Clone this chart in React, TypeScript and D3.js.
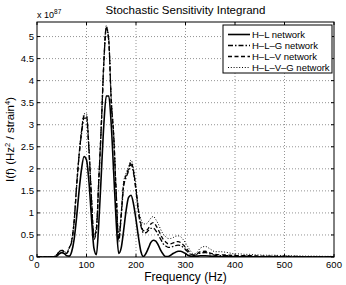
import React from "react";
import * as d3 from "d3";

const freqs = [
  0, 5, 10, 15, 20, 25, 30, 35, 40, 45, 50, 55, 60, 65, 70, 75, 80, 85, 90, 95,
  100, 105, 110, 115, 120, 125, 130, 135, 140, 145, 150, 155, 160, 165, 170, 175, 180, 185, 190, 195,
  200, 205, 210, 215, 220, 225, 230, 235, 240, 245, 250, 255, 260, 265, 270, 275, 280, 285, 290, 295,
  300, 305, 310, 315, 320, 330, 340, 350, 360, 370, 380, 390, 400, 410, 420, 430, 440, 450, 460, 470,
  480, 490, 500, 510, 520, 530, 540, 550, 560, 570, 580, 590, 600,
];

const hl = [
  0, 0, 0, 0, 0, 0, 0, 0, 0.02, 0.07, 0.1, 0.08, 0.03, 0.02, 0.12, 0.4, 0.9, 1.5, 2.0, 2.28,
  2.2, 1.7, 0.9, 0.2, 0.05, 0.8, 1.9, 3.0, 3.65, 3.65, 3.0, 1.9, 0.8, 0.08, 0.2, 0.6, 1.05, 1.35, 1.4, 1.2,
  0.85, 0.45, 0.12, 0.01, 0.08, 0.2, 0.33, 0.38, 0.36, 0.27, 0.15, 0.06, 0.01, 0.01, 0.04, 0.08, 0.11, 0.13, 0.13, 0.11,
  0.08, 0.04, 0.02, 0.01, 0.01, 0.03, 0.03, 0.02, 0.01, 0.005, 0.01, 0.01, 0.005, 0.003, 0.003, 0.004, 0.003, 0.002, 0.002, 0.002,
  0.002, 0.001, 0.001, 0.001, 0.001, 0.001, 0.001, 0.001, 0.001, 0.001, 0.001, 0.001, 0.001,
];

const hlg = [
  0, 0, 0, 0, 0, 0, 0, 0.01, 0.05, 0.12, 0.15, 0.12, 0.08, 0.2, 0.35, 0.8, 1.6, 2.3, 2.8, 3.15,
  3.15, 2.4, 1.3, 0.4, 0.6, 1.75, 3.0, 4.4, 5.2, 4.9, 3.5, 2.7, 1.4, 0.35, 0.9, 1.6, 1.8, 1.95, 2.1, 1.9,
  1.5, 1.0, 0.7, 0.55, 0.55, 0.6, 0.65, 0.65, 0.6, 0.5, 0.4, 0.3, 0.25, 0.22, 0.22, 0.24, 0.26, 0.27, 0.26, 0.22,
  0.17, 0.11, 0.06, 0.03, 0.04, 0.09, 0.1, 0.07, 0.04, 0.03, 0.03, 0.03, 0.02, 0.02, 0.02, 0.02, 0.015, 0.01, 0.01, 0.01,
  0.01, 0.01, 0.01, 0.008, 0.008, 0.007, 0.006, 0.006, 0.005, 0.005, 0.004, 0.004, 0.004,
];

const hlv = [
  0, 0, 0, 0, 0, 0, 0, 0.01, 0.05, 0.12, 0.15, 0.12, 0.08, 0.2, 0.36, 0.8, 1.6, 2.3, 2.85, 3.2,
  3.2, 2.45, 1.35, 0.45, 0.65, 1.8, 3.0, 4.4, 5.2, 4.9, 3.55, 2.75, 1.45, 0.4, 0.95, 1.65, 1.85, 2.0, 2.15, 1.95,
  1.55, 1.05, 0.75, 0.6, 0.6, 0.65, 0.75, 0.78, 0.72, 0.62, 0.5, 0.4, 0.34, 0.3, 0.3, 0.32, 0.34, 0.35, 0.33, 0.28,
  0.22, 0.15, 0.08, 0.05, 0.05, 0.12, 0.13, 0.09, 0.06, 0.05, 0.05, 0.04, 0.03, 0.03, 0.03, 0.03, 0.025, 0.02, 0.02, 0.02,
  0.02, 0.015, 0.015, 0.012, 0.012, 0.01, 0.01, 0.009, 0.008, 0.008, 0.007, 0.006, 0.006,
];

const hlvg = [
  0, 0, 0, 0, 0, 0, 0, 0.01, 0.06, 0.13, 0.16, 0.13, 0.1, 0.22, 0.38, 0.85, 1.65, 2.35, 2.9, 3.25,
  3.25, 2.5, 1.4, 0.5, 0.7, 1.85, 3.05, 4.45, 5.25, 4.95, 3.6, 2.8, 1.5, 0.45, 1.0, 1.7, 1.9, 2.05, 2.2, 2.0,
  1.6, 1.1, 0.85, 0.75, 0.75, 0.8, 0.88, 0.92, 0.85, 0.75, 0.62, 0.52, 0.46, 0.42, 0.42, 0.44, 0.47, 0.48, 0.46, 0.4,
  0.32, 0.23, 0.14, 0.08, 0.08, 0.2, 0.24, 0.18, 0.12, 0.12, 0.11, 0.09, 0.07, 0.07, 0.06, 0.06, 0.05, 0.045, 0.04, 0.04,
  0.04, 0.035, 0.035, 0.03, 0.025, 0.025, 0.02, 0.02, 0.02, 0.018, 0.015, 0.015, 0.015,
];

const seriesNames = ["H\u2013L network", "H\u2013L\u2013G network", "H\u2013L\u2013V network", "H\u2013L\u2013V\u2013G network"];
const xTicks = [0, 100, 200, 300, 400, 500, 600];
const yTicks = [0, 0.5, 1, 1.5, 2, 2.5, 3, 3.5, 4, 4.5, 5];

const W = 346;
const H = 285;
const m = { left: 37, right: 12, top: 22, bottom: 27 };
const FONT = "Liberation Sans, Arial, Helvetica, sans-serif";

export default function App() {
  const x = d3.scaleLinear().domain([0, 600]).range([m.left, W - m.right]);
  const y = d3.scaleLinear().domain([0, 5.33]).range([H - m.bottom - 1, m.top]);
  const series = [hl, hlg, hlv, hlvg];
  const dashes = ["none", "5,2,1.5,2", "4,2.5", "1,1.8"];
  const widths = [1.6, 1.3, 1.3, 1.0];
  const line = (vals: number[]) =>
    d3
      .line<number>()
      .x((_, i) => x(freqs[i]))
      .y((d) => y(d))
      .curve(d3.curveMonotoneX)(vals) as string;

  const x0 = x(0), x1 = x(600), yb = y(0), yt = m.top;
  const lgX = 223, lgY = 25, lgW = 109, lgH = 48;

  return (
    <svg width={W} height={H} style={{ position: "absolute", left: 0, top: 0 }} fontFamily={FONT}>
      <rect x={0} y={0} width={W} height={H} fill="#fff" />
      {xTicks.slice(1, -1).map((t) => (
        <line key={"gx" + t} x1={x(t)} x2={x(t)} y1={yt} y2={yb} stroke="#666" strokeWidth={0.7} strokeDasharray="1,2" />
      ))}
      {yTicks.slice(1).map((t) => (
        <line key={"gy" + t} x1={x0} x2={x1} y1={y(t)} y2={y(t)} stroke="#666" strokeWidth={0.7} strokeDasharray="1,2" />
      ))}
      <clipPath id="clip">
        <rect x={x0} y={yt} width={x1 - x0} height={yb - yt} />
      </clipPath>
      <g clipPath="url(#clip)">
        {series.map((s, i) => (
          <path key={i} d={line(s)} fill="none" stroke="#000" strokeWidth={widths[i]} strokeDasharray={dashes[i]} />
        ))}
      </g>
      <rect x={x0} y={yt} width={x1 - x0} height={yb - yt} fill="none" stroke="#000" strokeWidth={1} />
      {xTicks.map((t) => (
        <g key={"xt" + t}>
          <line x1={x(t)} x2={x(t)} y1={yb} y2={yb - 3} stroke="#000" />
          <line x1={x(t)} x2={x(t)} y1={yt} y2={yt + 3} stroke="#000" />
          <text x={x(t)} y={yb + 11} fontSize={9.5} textAnchor="middle">{t}</text>
        </g>
      ))}
      {yTicks.map((t) => (
        <g key={"yt" + t}>
          <line x1={x0} x2={x0 + 3} y1={y(t)} y2={y(t)} stroke="#000" />
          <line x1={x1} x2={x1 - 3} y1={y(t)} y2={y(t)} stroke="#000" />
          <text x={x0 - 3} y={y(t) + 3.5} fontSize={9.5} textAnchor="end">{t}</text>
        </g>
      ))}
      <text x={37} y={18} fontSize={9}>
        x 10<tspan dy={-4} fontSize={6.5}>87</tspan>
      </text>
      <text x={(x0 + x1) / 2} y={14} fontSize={11.5} textAnchor="middle">Stochastic Sensitivity Integrand</text>
      <text x={(x0 + x1) / 2} y={281} fontSize={12} textAnchor="middle">Frequency (Hz)</text>
      <text transform={`translate(14,${(yt + yb) / 2}) rotate(-90)`} fontSize={11.5} textAnchor="middle">
        I(f) (Hz<tspan dy={-4} fontSize={7.5}>2</tspan><tspan dy={4}> / strain</tspan><tspan dy={-4} fontSize={7.5}>4</tspan><tspan dy={4}>)</tspan>
      </text>
      <rect x={lgX} y={lgY} width={lgW} height={lgH} fill="#fff" stroke="#000" strokeWidth={1} />
      {seriesNames.map((n, i) => {
        const ry = lgY + 9.5 + i * 11;
        return (
          <g key={n}>
            <line x1={lgX + 5} x2={lgX + 27} y1={ry} y2={ry} stroke="#000" strokeWidth={widths[i]} strokeDasharray={dashes[i]} />
            <text x={lgX + 29} y={ry + 3.3} fontSize={9.5}>{n}</text>
          </g>
        );
      })}
    </svg>
  );
}
